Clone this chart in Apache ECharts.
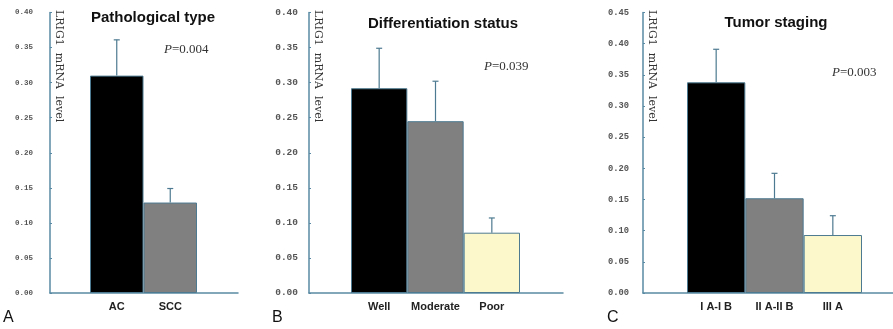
<!DOCTYPE html>
<html><head><meta charset="utf-8">
<script src="https://cdn.jsdelivr.net/npm/echarts@6/dist/echarts.min.js"></script>
<style>html,body{margin:0;padding:0;background:#fff}#c{width:893px;height:329px}</style>
</head><body><div id="c"></div>
<script>
// ---- data ----
const catsA = ['AC', 'SCC'];
const meanA = [0.310, 0.129];
const errA  = [0.051, 0.020];
const catsB = ['Well', 'Moderate', 'Poor'];
const meanB = [0.292, 0.245, 0.086];
const errB  = [0.057, 0.057, 0.021];
const catsC = ['I A-I B', 'II A-II B', 'III A'];
const meanC = [0.338, 0.152, 0.093];
const errC  = [0.053, 0.040, 0.031];
const titles = ['Pathological type', 'Differentiation status', 'Tumor staging'];
const pvals = ['0.004', '0.039', '0.003'];
const yMax = [0.40, 0.40, 0.45];
const yStep = 0.05;

// ---- styles ----
const barColors = ['#000000', '#808080', '#fdf7cc'];
const axisCol = '#5a8aa3';
const edgeCol = '#4d7a90';

const panels = [
  {cats: catsA, mean: meanA, err: errA, frame: [50, 188], bars: [90, 107], lab: 7.5, labMargin: 17},
  {cats: catsB, mean: meanB, err: errB, frame: [309, 254], bars: [351, 169], lab: 9.5, labMargin: 11},
  {cats: catsC, mean: meanC, err: errC, frame: [643, 250], bars: [687, 175], lab: 8.8, labMargin: 14}
];
const gTop = 12.5, gH = 280.5;

const grid = [], xAxis = [], yAxis = [], series = [];
panels.forEach((p, k) => {
  const gf = grid.length;
  grid.push({left: p.frame[0], width: p.frame[1], top: gTop, height: gH});
  grid.push({left: p.bars[0], width: p.bars[1], top: gTop, height: gH});
  // frame axes
  xAxis.push({gridIndex: gf, type: 'value', min: 0, max: 1, axisLine: {show: true, onZero: false, lineStyle: {color: axisCol, width: 1.5}},
    axisTick: {show: false}, axisLabel: {show: false}, splitLine: {show: false}});
  yAxis.push({gridIndex: gf, type: 'value', min: 0, max: yMax[k], interval: yStep,
    axisLine: {show: true, lineStyle: {color: axisCol, width: 1.5}},
    axisTick: {show: true, inside: true, length: 2, lineStyle: {color: axisCol}},
    axisLabel: {margin: p.labMargin, fontFamily: 'Liberation Mono', fontWeight: 'bold', fontSize: p.lab, color: '#555',
      formatter: v => v.toFixed(2)},
    splitLine: {show: false}});
  // bar axes
  xAxis.push({gridIndex: gf + 1, type: 'category', data: p.cats, axisLine: {show: false}, axisTick: {show: false},
    axisLabel: {interval: 0, margin: 8, fontFamily: 'Liberation Sans', fontWeight: 'bold', fontSize: 11, color: '#222'}});
  yAxis.push({gridIndex: gf + 1, type: 'value', min: 0, max: yMax[k], show: false, splitLine: {show: false}});
  const xi = xAxis.length - 1, yi = yAxis.length - 1;
  series.push({type: 'bar', xAxisIndex: xi, yAxisIndex: yi, barCategoryGap: '0%', barWidth: '100%',
    data: p.mean.map((v, i) => ({value: v, itemStyle: {color: barColors[i], borderColor: edgeCol, borderWidth: 1}})),
    silent: true, animation: false});
  series.push({type: 'custom', xAxisIndex: xi, yAxisIndex: yi, z: 5, silent: true, animation: false,
    data: p.mean.map((v, i) => [i, v, p.err[i]]),
    renderItem: (params, api) => {
      const i = api.value(0), m = api.value(1), e = api.value(2);
      const a = api.coord([i, m]), b = api.coord([i, m + e]);
      const st = {stroke: edgeCol, lineWidth: 1.2};
      return {type: 'group', children: [
        {type: 'line', shape: {x1: a[0], y1: a[1], x2: b[0], y2: b[1]}, style: st},
        {type: 'line', shape: {x1: b[0] - 3, y1: b[1], x2: b[0] + 3, y2: b[1]}, style: st}
      ]};
    }});
});

const ylabelPos = [[53, 10], [312, 10], [646, 10]];
const titlePos = [[153, 18], [443, 24], [776, 23]];
const pPos = [[164, 50], [484, 67], [832, 73]];
const letterPos = [[3, 318], [272, 318], [607, 318]];
const letters = ['A', 'B', 'C'];
const graphic = [];
for (let k = 0; k < 3; k++) {
  graphic.push({type: 'text', x: ylabelPos[k][0], y: ylabelPos[k][1], rotation: -Math.PI / 2,
    style: {text: 'LRIG1  mRNA  level', font: '11px "DejaVu Serif"', fill: '#333', textAlign: 'left', textVerticalAlign: 'bottom'}});
  graphic.push({type: 'text', x: titlePos[k][0], y: titlePos[k][1],
    style: {text: titles[k], font: 'bold 15px "Liberation Sans"', fill: '#111', textAlign: 'center', textVerticalAlign: 'middle'}});
  graphic.push({type: 'text', x: pPos[k][0], y: pPos[k][1],
    style: {text: '{i|P}{n|=' + pvals[k] + '}', textVerticalAlign: 'middle',
      rich: {i: {font: 'italic 13px "Liberation Serif"', fill: '#333'}, n: {font: '13px "Liberation Serif"', fill: '#333'}}}});
  graphic.push({type: 'text', x: letterPos[k][0], y: letterPos[k][1],
    style: {text: letters[k], font: '16px "Liberation Sans"', fill: '#111', textVerticalAlign: 'middle'}});
}

const chart = echarts.init(document.getElementById('c'), null, {renderer: 'canvas'});
chart.setOption({animation: false, backgroundColor: '#fff', grid, xAxis, yAxis, series, graphic});
</script></body></html>
